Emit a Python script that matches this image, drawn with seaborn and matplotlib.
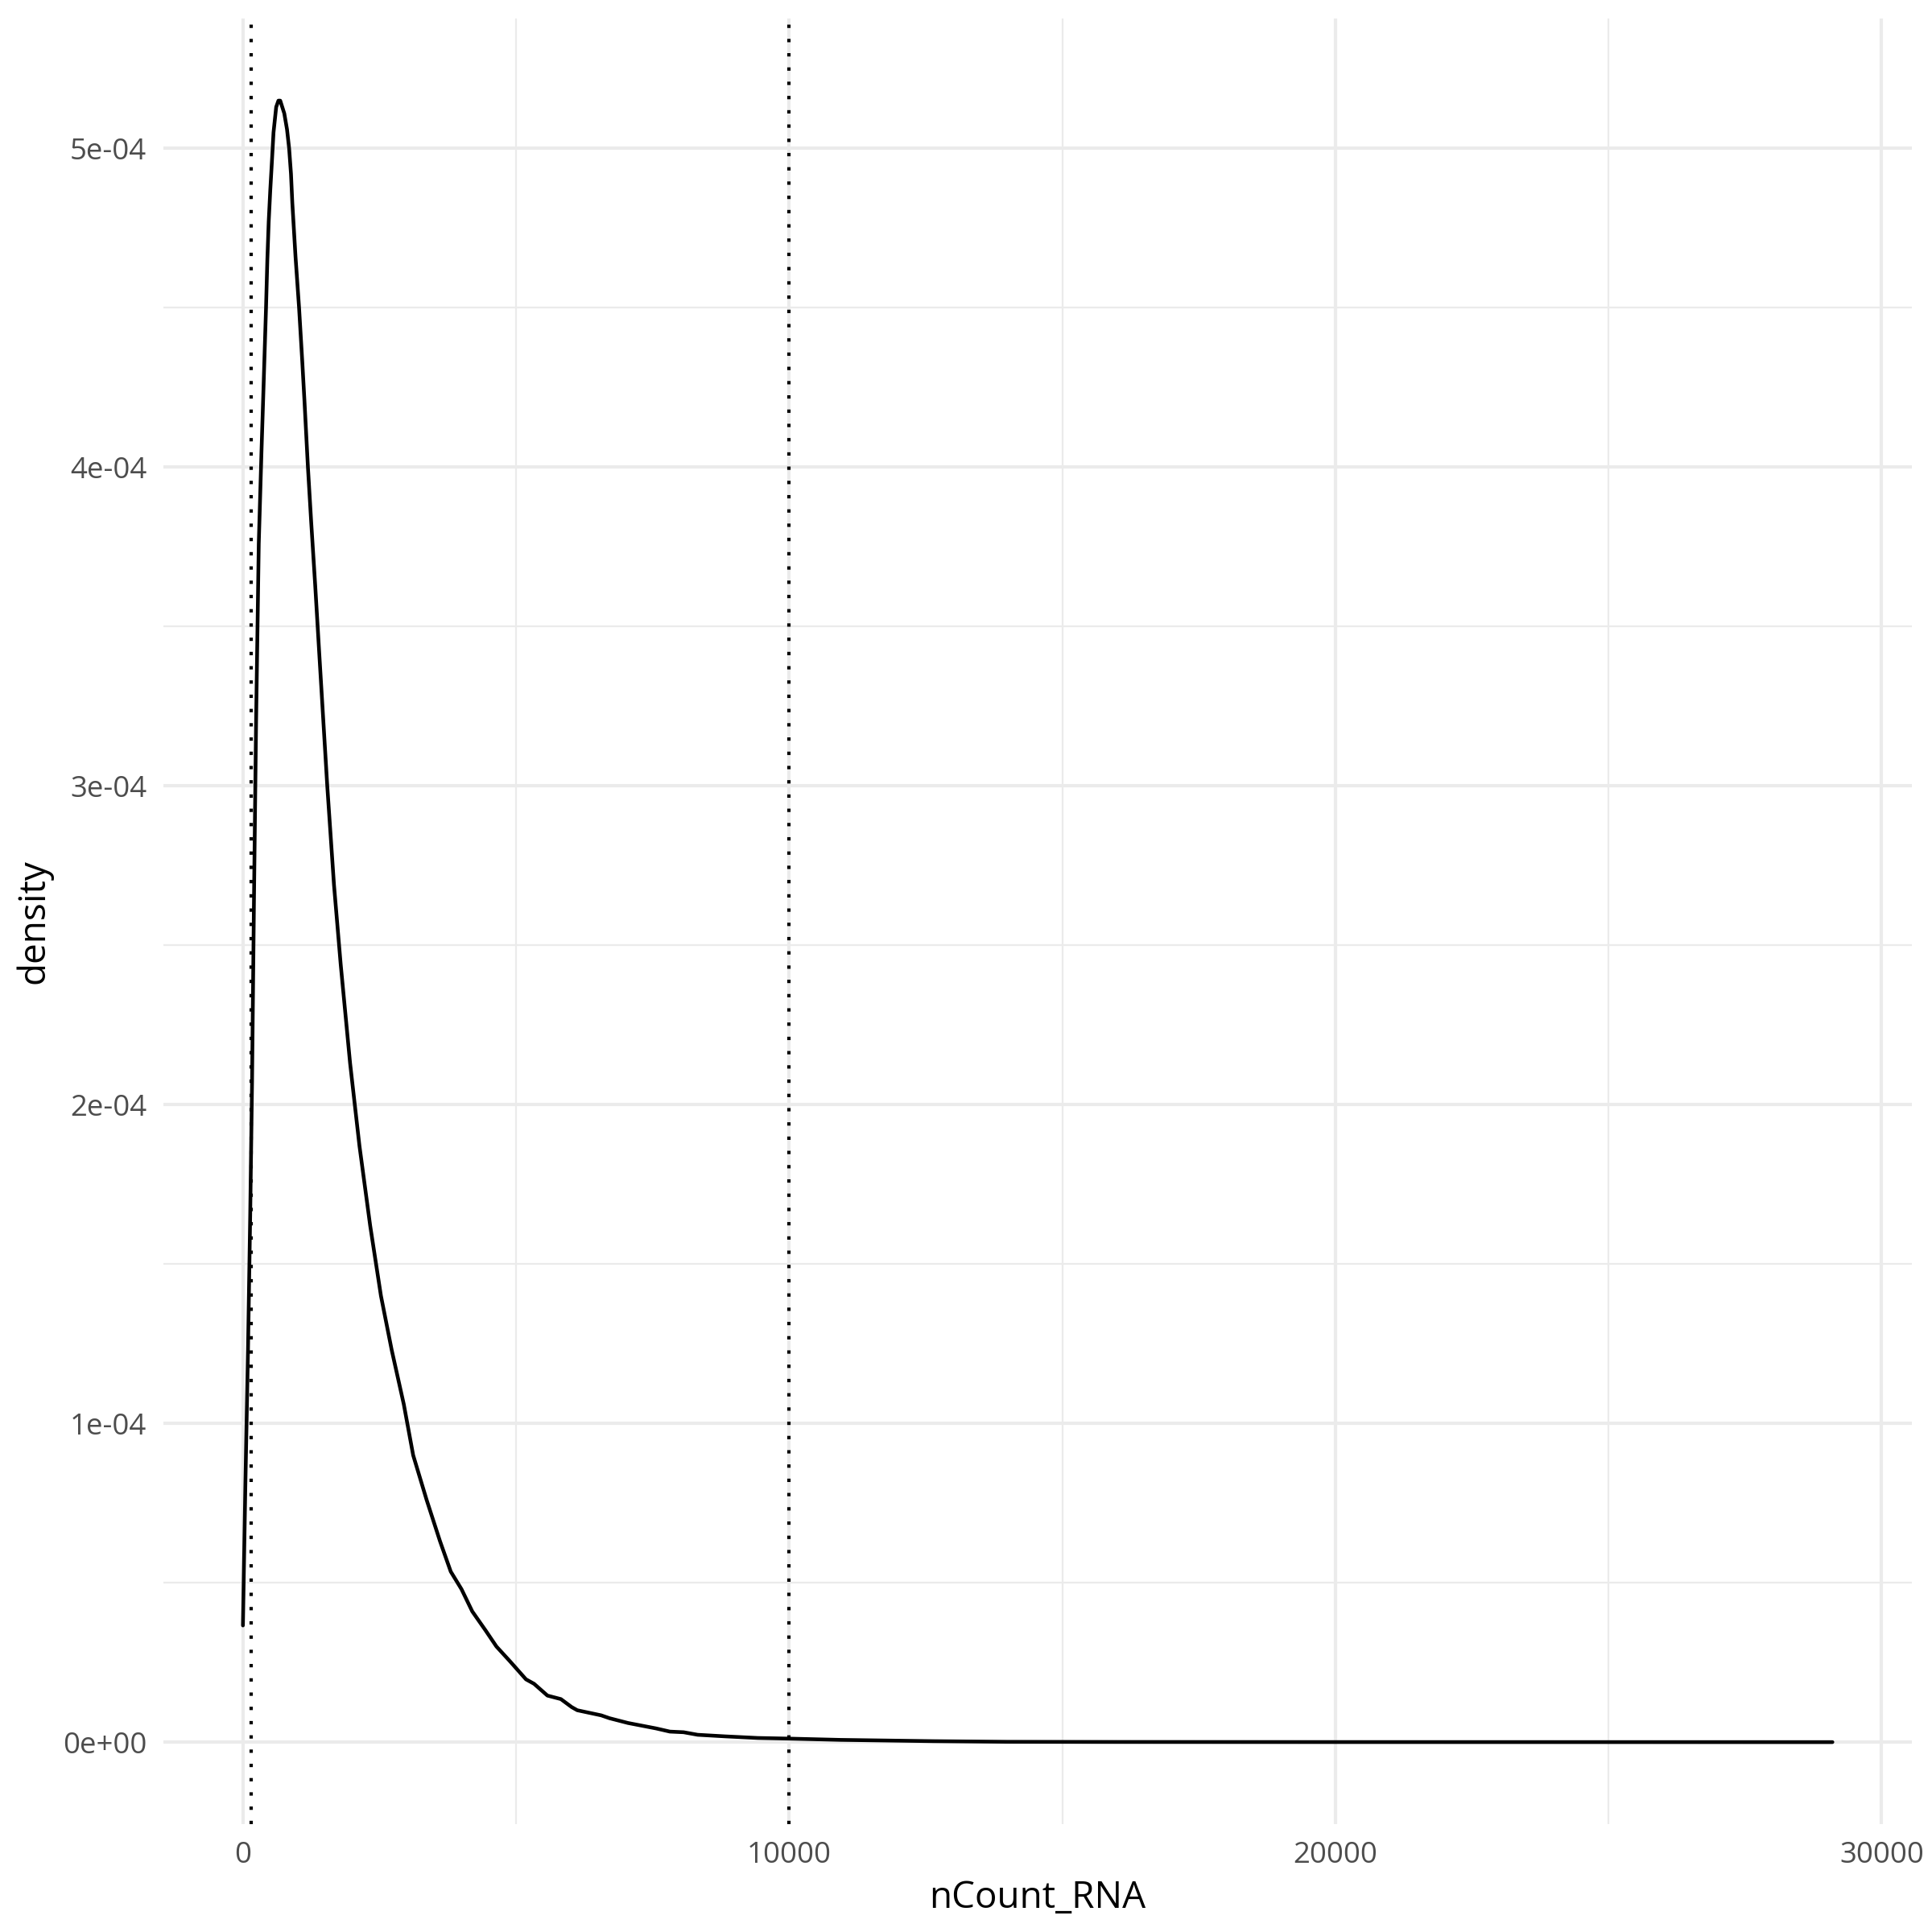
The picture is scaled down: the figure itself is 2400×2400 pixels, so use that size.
import numpy as np
import pandas as pd
import matplotlib.pyplot as plt
from matplotlib.ticker import MultipleLocator, FixedLocator
import seaborn as sns

# density curve of nCount_RNA
count_rna = [0, 44, 93, 133, 167, 202, 241, 290, 340, 379, 423, 447, 472,
             501, 531, 560, 609, 650, 683, 720, 757, 807, 846, 880, 904,
             963, 1028, 1087, 1126, 1190, 1249, 1323, 1396, 1544, 1667,
             1790, 1962, 2134, 2330, 2527, 2724, 2945, 3117, 3363, 3609,
             3805, 4001, 4199, 4444, 4641, 4887, 5182, 5330, 5575, 5821,
             6018, 6121, 6559, 6711, 7050, 7563, 7817, 8068, 8326, 8835,
             9425, 10000, 10944, 12640, 14000, 16000, 20000, 25000, 29100]
density = [3.66e-05, 8.0e-05, 1.23e-04, 1.65e-04, 2.07e-04, 2.64e-04,
           3.20e-04, 3.76e-04, 4.05e-04, 4.26e-04, 4.50e-04, 4.65e-04,
           4.77e-04, 4.87e-04, 4.96e-04, 5.05e-04, 5.13e-04, 5.15e-04,
           5.15e-04, 5.13e-04, 5.11e-04, 5.06e-04, 5.00e-04, 4.92e-04,
           4.83e-04, 4.66e-04, 4.50e-04, 4.33e-04, 4.21e-04, 4.00e-04,
           3.83e-04, 3.63e-04, 3.42e-04, 3.00e-04, 2.69e-04, 2.44e-04,
           2.13e-04, 1.87e-04, 1.62e-04, 1.40e-04, 1.23e-04, 1.06e-04,
           9.0e-05, 7.6e-05, 6.3e-05, 5.35e-05, 4.8e-05, 4.1e-05, 3.5e-05,
           3.0e-05, 2.54e-05, 1.97e-05, 1.83e-05, 1.46e-05, 1.35e-05,
           1.10e-05, 1.00e-05, 8.4e-06, 7.5e-06, 6.0e-06, 4.3e-06, 3.3e-06,
           3.1e-06, 2.3e-06, 1.8e-06, 1.3e-06, 1.1e-06, 7.0e-07, 3.0e-07,
           1.0e-07, 5.0e-08, 2.0e-08, 1.0e-08, 0.0]

cutoffs = [150, 10000]

x_ticks = [0, 10000, 20000, 30000]
x_tick_labels = ["0", "10000", "20000", "30000"]
y_ticks = [0, 1e-4, 2e-4, 3e-4, 4e-4, 5e-4]
y_tick_labels = ["0e+00", "1e-04", "2e-04", "3e-04", "4e-04", "5e-04"]

df = pd.DataFrame({"nCount_RNA": count_rna, "density": density})

sns.set_theme(style="white")
plt.rcParams["font.family"] = ["Open Sans", "DejaVu Sans"]

fig, ax = plt.subplots(figsize=(8, 8), dpi=300)
fig.subplots_adjust(left=0.0846, right=0.9896, bottom=0.0558, top=0.9904)

# ggplot-like 5% expansion
xr = max(count_rna) - min(count_rna)
yr = max(density) - min(density)
ax.set_xlim(min(count_rna) - 0.05 * xr, max(count_rna) + 0.05 * xr)
ax.set_ylim(min(density) - 0.05 * yr, max(density) + 0.05 * yr)

ax.xaxis.set_major_locator(FixedLocator(x_ticks))
ax.yaxis.set_major_locator(FixedLocator(y_ticks))
ax.xaxis.set_minor_locator(MultipleLocator(5000))
ax.yaxis.set_minor_locator(MultipleLocator(0.5e-4))
ax.set_xticklabels(x_tick_labels)
ax.set_yticklabels(y_tick_labels)

ax.grid(which="major", color="#EBEBEB", linewidth=1.0)
ax.grid(which="minor", color="#EBEBEB", linewidth=0.55)
ax.set_axisbelow(True)

sns.lineplot(data=df, x="nCount_RNA", y="density", color="black",
             linewidth=1.1, estimator=None, ax=ax)

for c in cutoffs:
    ax.axvline(c, color="black", linestyle=(0, (1, 3.25)), linewidth=1.0)

sns.despine(ax=ax, left=True, bottom=True)
ax.tick_params(which="both", length=0, pad=5, labelsize=8.8,
               labelcolor="#4D4D4D")
ax.set_xlabel("nCount_RNA", fontsize=11, color="black", labelpad=3)
ax.set_ylabel("density", fontsize=11, color="black", labelpad=3)

fig.savefig("out.png", dpi=300, facecolor="white")
